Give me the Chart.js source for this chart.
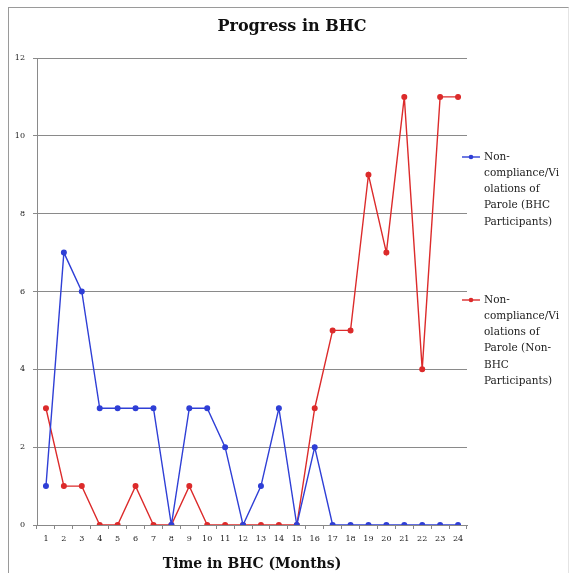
<!DOCTYPE html>
<html><head><meta charset="utf-8">
<script src="https://cdn.jsdelivr.net/npm/chart.js@4/dist/chart.umd.min.js"></script>
<style>
html,body{margin:0;padding:0;background:#fff;}
#wrap{position:relative;width:574px;height:573px;}
#frame{position:absolute;left:8px;top:7px;width:561px;height:570px;border:1px solid #9a9a9a;border-right-color:#e4e4e4;box-sizing:border-box;}
canvas{position:absolute;left:0;top:0;}
</style>
</head><body>
<div id="wrap"><div id="frame"></div><canvas id="c" width="574" height="573"></canvas></div>
<script>
const months = ["1","2","3","4","5","6","7","8","9","10","11","12","13","14","15","16","17","18","19","20","21","22","23","24"];
const bhcParticipants = [1,7,6,3,3,3,3,0,3,3,2,0,1,3,0,2,0,0,0,0,0,0,0,0];
const nonBhcParticipants = [3,1,1,0,0,1,0,0,1,0,0,0,0,0,0,3,5,5,9,7,11,4,11,11];
const seriesNames = [
  ["Non-","compliance/Vi","olations of","Parole (BHC","Participants)"],
  ["Non-","compliance/Vi","olations of","Parole (Non-","BHC","Participants)"]
];
const chartTitle = "Progress in BHC";
const yTicks = [0,2,4,6,8,10,12];
const BLUE = "#2f3fd6", RED = "#dc2b2b";
const serif = "'DejaVu Serif', 'Liberation Serif', serif";

const legendPlugin = {
  id: 'sideLegend',
  afterDraw(chart) {
    const ctx = chart.ctx;
    const items = [{y:157, color:BLUE, lines:seriesNames[0]},{y:300, color:RED, lines:seriesNames[1]}];
    ctx.save();
    ctx.font = "10.5px " + serif;
    ctx.textBaseline = "middle";
    items.forEach(it => {
      ctx.strokeStyle = it.color; ctx.lineWidth = 1.4;
      ctx.beginPath(); ctx.moveTo(462, it.y); ctx.lineTo(480, it.y); ctx.stroke();
      ctx.fillStyle = it.color;
      ctx.beginPath(); ctx.arc(471, it.y, 2.3, 0, Math.PI*2); ctx.fill();
      ctx.fillStyle = "#222";
      it.lines.forEach((t,i) => ctx.fillText(t, 484, it.y + i*16.2));
    });
    // title
    ctx.font = "bold 16px " + serif;
    ctx.fillStyle = "#111";
    ctx.textAlign = "center";
    ctx.fillText(chartTitle, 292, 27);
    ctx.restore();
  }
};

new Chart(document.getElementById('c'), {
  type: 'line',
  data: {
    labels: months,
    datasets: [
      {label: seriesNames[0].join(''), data: bhcParticipants, borderColor: BLUE, backgroundColor: BLUE,
       borderWidth: 1.4, pointRadius: 2.3, pointHoverRadius: 2.3, tension: 0},
      {label: seriesNames[1].join(''), data: nonBhcParticipants, borderColor: RED, backgroundColor: RED,
       borderWidth: 1.4, pointRadius: 2.3, pointHoverRadius: 2.3, tension: 0}
    ]
  },
  options: {
    responsive: false,
    animation: false,
    devicePixelRatio: 1,
    layout: {padding: {left: 0, right: 107, top: 58, bottom: 0}},
    plugins: {
      legend: {display: false},
      tooltip: {enabled: false},
      title: {display: false}
    },
    scales: {
      x: {
        offset: true,
        grid: {display: true, drawOnChartArea: false, drawTicks: true, tickLength: 4, color: "#888", offset: true},
        border: {display: true, color: "#888", width: 1},
        ticks: {color: "#222", font: {family: serif, size: 8}, padding: 5, maxRotation: 0, autoSkip: false},
        title: {display: true, text: "Time in BHC (Months)", color: "#111",
                font: {family: serif, size: 14, weight: 'bold'}, padding: {top: 0, bottom: 0}},
        afterFit(s) { s.height = 48; }
      },
      y: {
        min: 0, max: 12,
        afterBuildTicks(s) { s.ticks = yTicks.map(v => ({value: v})); },
        grid: {color: "#8a8a8a", lineWidth: 1, tickLength: 4, drawTicks: true},
        border: {display: true, color: "#8a8a8a", width: 1},
        ticks: {color: "#222", font: {family: serif, size: 8}, padding: 8},
        afterFit(s) { s.width = 37; }
      }
    }
  },
  plugins: [legendPlugin]
});
</script>
</body></html>
